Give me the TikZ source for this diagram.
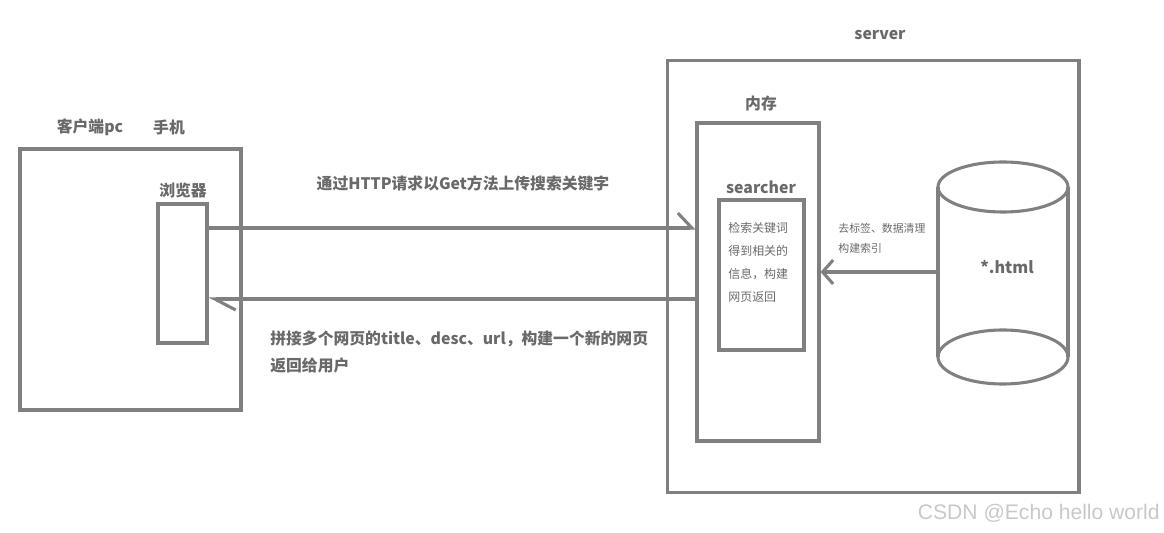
\documentclass[tikz,border=0pt]{standalone}
\usepackage{fontspec}
\setmainfont{Noto Sans CJK SC}
\newfontfamily\markfont{Liberation Sans}
\usepackage{xcolor}
\usepackage{tikz}
\usetikzlibrary{arrows.meta,positioning}
\definecolor{linegray}{RGB}{128,128,128}
\definecolor{textgray}{RGB}{105,105,105}
\definecolor{markgray}{RGB}{200,200,200}

\begin{document}
\begin{tikzpicture}[
    x=0.02cm, y=-0.02cm,
    box/.style={rectangle, draw=linegray, line width=1.75pt, inner sep=0pt},
    title/.style={text=textgray, inner sep=0pt, font=\fontsize{9}{10}\selectfont\bfseries},
    note/.style={text=textgray, inner sep=0pt, align=left},
    link/.style={draw=linegray, line width=1.75pt}
]
\useasboundingbox (0,0) rectangle (1164,533);

% client side
\node[box, minimum width=4.42cm, minimum height=5.22cm] (client)  at (130.5,279.5) {};
\node[box, minimum width=0.98cm, minimum height=2.78cm] (browser) at (182.5,273.5) {};
\node[title] (pc)    at (90,127)  {客户端pc};
\node[title] (phone) at (169,127) {手机};
\node[title] (brw)   at (183,191) {浏览器};

% server side
\node[box, minimum width=8.24cm, minimum height=8.66cm] (server)   at (873,276.5) {};
\node[box, minimum width=2.44cm, minimum height=6.36cm] (mem)      at (758,282)   {};
\node[box, minimum width=1.70cm, minimum height=3.00cm] (searcher) at (761.5,275) {};
\node[title] (srv)  at (880,35)  {server};
\node[title] (memt) at (761,104) {内存};
\node[title] (srch) at (761,187) {searcher};
\node[note, anchor=west, font=\fontsize{6.8}{13}\selectfont] (work) at (728,262.5)
    {检索关键词\\得到相关的\\信息，构建\\网页返回};

% html files
\draw[link] (938,187) -- (938,357);
\draw[link] (1068,187) -- (1068,357);
\draw[link] (1003,187) ellipse [x radius=65, y radius=25];
\draw[link] (1003,357) ellipse [x radius=65, y radius=27];
\node[title, font=\fontsize{9.2}{11}\selectfont\bfseries] (html) at (1007,267) {*.html};
\coordinate (dbside) at (940,272);
\node[note, anchor=west, font=\fontsize{6.2}{11.3}\selectfont] (clean) at (838,238)
    {去标签、数据清理\\构建索引};

% connectors
\draw[link, -{Straight Barb[length=6pt, width=13.6pt]}] (dbside) -- (mem.east |- dbside);
\draw[link, -{Straight Barb[harpoon, length=8pt, width=17pt]}] (browser.east |- 0,228) -- (mem.west |- 0,228);
\draw[link, -{Straight Barb[harpoon, length=11.9pt, width=12.5pt]}] (mem.west |- 0,299) -- (browser.east |- 0,299);
\node[title] (req) at (463,183) {通过HTTP请求以Get方法上传搜索关键字};
\node[note, anchor=west, font=\fontsize{9}{15.9}\selectfont\bfseries] (resp) at (270,352)
    {拼接多个网页的title、desc、url，构建一个新的网页\\返回给用户};

\node[anchor=east, inner sep=0pt, text=markgray, font=\markfont\fontsize{12}{14}\selectfont] (mark) at (1160,513)
    {CSDN @Echo hello world};
\end{tikzpicture}
\end{document}
